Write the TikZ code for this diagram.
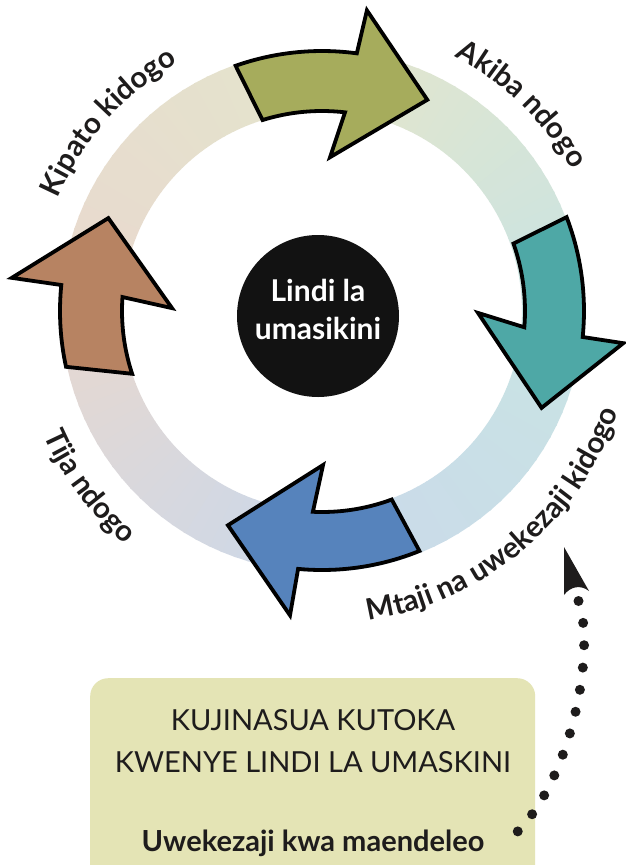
\documentclass[tikz,border=0pt]{standalone}
\usepackage{fontspec}
\setmainfont{Lato}
\usetikzlibrary{decorations.text}
\definecolor{agreen}{RGB}{166,172,92}
\definecolor{ateal}{RGB}{78,168,166}
\definecolor{ablue}{RGB}{86,131,188}
\definecolor{abrown}{RGB}{183,131,98}
\definecolor{boxfill}{RGB}{228,228,181}
\definecolor{ink}{RGB}{30,28,28}
\newcommand\lblfont{\fontsize{29.5}{33}\selectfont\bfseries}
\begin{document}
\begin{tikzpicture}[x=1pt,y=-1pt,
  bigarrow/.style={draw=black, line width=3.8pt, line join=miter},
  arclabel/.style={decorate, decoration={text along path, text align=center, text color=ink}},
  boxtitle/.style={anchor=base, text=ink, font=\fontsize{29}{34}\selectfont},
  boxbold/.style={anchor=base, text=ink, font=\fontsize{29}{34}\selectfont\bfseries}]
\useasboundingbox (0,0) rectangle (625,865);
\fill[white] (0,0) rectangle (625,865);

\begin{scope}[shift={(322,311)}]
  % faded ring
  \foreach \sa/\ea/\ca/\cb in {-86/2/agreen/ateal, 2/91/ateal/ablue, 91/183/ablue/abrown, 183/274/abrown/agreen}{
    \foreach \i in {0,...,29}{
      \pgfmathsetmacro\aa{\sa+(\ea-\sa)*\i/30}
      \pgfmathsetmacro\ab{\sa+(\ea-\sa)*(\i+1)/30+0.4}
      \pgfmathtruncatemacro\p{100*(\i+0.5)/30}
      \colorlet{segmix}{\cb!\p!\ca}
      \fill[segmix!31!white] (\aa:200) -- (\aa:261) -- (\ab:261) -- (\ab:200) -- cycle;
    }
  }
  % arrows
  \draw[bigarrow, fill=agreen] plot[domain=0:1,samples=24] ({-109.4+27.1*\x}:260)
     -- (-81.5:304) -- (-63.5:236) -- (-87:154)
     -- plot[domain=0:1,samples=24] ({-83.4-23.9*\x}:200) -- cycle;
  \draw[bigarrow, fill=ateal] plot[domain=0:1,samples=24] ({-21+26.7*\x}:262)
     -- (6.1:303) -- (23.8:240) -- (0.7:156)
     -- plot[domain=0:1,samples=24] ({4.6-24*\x}:203) -- cycle;
  \draw[bigarrow, fill=ablue] plot[domain=0:1,samples=24] ({67.9+27.4*\x}:259)
     -- (96:306) -- (113.7:234) -- (89.6:154)
     -- plot[domain=0:1,samples=24] ({92.6-22.9*\x}:201) -- cycle;
  \draw[bigarrow, fill=abrown] plot[domain=0:1,samples=24] ({167.7+18*\x}:262)
     -- (186.1:312) -- (203.5:233) -- (181.1:150)
     -- plot[domain=0:1,samples=24] ({184-22.3*\x}:200) -- cycle;
  % curved labels
  \path[arclabel, decoration={text={|\lblfont|Kipato kidogo}}]
     plot[domain=0:1,samples=90] ({-178.5+80*\x}:287);
  \path[arclabel, decoration={text={|\lblfont|Akiba ndogo}}]
     plot[domain=0:1,samples=90] ({-86+80*\x}:287);
  \path[arclabel, decoration={text={|\lblfont|Tija ndogo}}]
     plot[domain=0:1,samples=90] ({183-80*\x}:305);
  \path[arclabel, decoration={text={|\lblfont|Mtaji na uwekezaji kidogo}}]
     plot[domain=0:1,samples=120] ({100-100*\x}:313);
\end{scope}

% centre
\node[circle, fill=black!93, minimum size=162pt, inner sep=0pt] (pit) at (318,316) {};
\node[text=white, font=\fontsize{30}{38}\selectfont\bfseries, align=center] (pittext) at (318,309) {Lindi la\\umasikini};

% box
\node[fill=boxfill, rounded corners=18pt, minimum width=445pt, minimum height=240pt,
      anchor=north west, inner sep=0pt] (box) at (90,678) {};
\node[boxtitle] (title1) at (313,730) {KUJINASUA KUTOKA};
\node[boxtitle] (title2) at (313,772) {KWENYE LINDI LA UMASKINI};
\node[boxbold] (invest) at (313,851) {Uwekezaji kwa maendeleo};

% dotted connector with arrowhead
\coordinate (dotstart) at (514.5,834.6);
\coordinate (dotend) at (578.5,601);
\coordinate (arrowtip) at (564,547);
\draw[ink, line width=10pt, line cap=round, dash pattern=on 0pt off 22.4pt]
  (dotend) .. controls (596,650) and (572,780) .. (dotstart);
\fill[ink] (arrowtip) -- (589,591) .. controls (580,584) and (570,587) .. (564,595) -- cycle;
\end{tikzpicture}
\end{document}
